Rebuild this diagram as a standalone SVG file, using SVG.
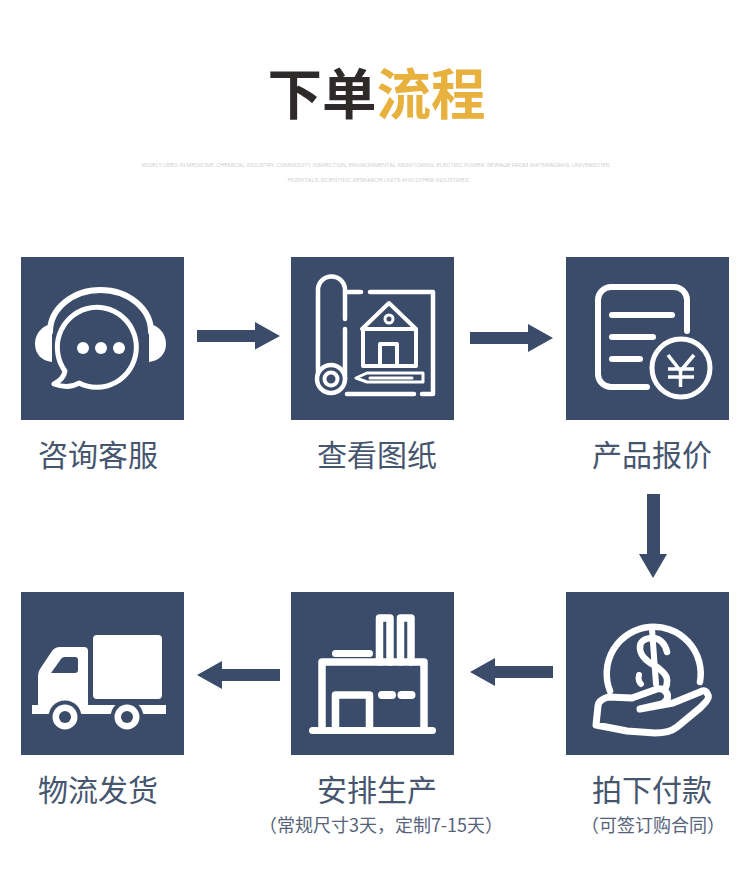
<svg xmlns="http://www.w3.org/2000/svg" width="750" height="878" viewBox="0 0 750 878">
<style>
.box{fill:#3b4c6a}
.s{fill:none;stroke:#fff;stroke-linecap:round;stroke-linejoin:round}
.w{fill:#fff}
.d{fill:#3b4c6a}
.lb{font-family:"Noto Sans CJK SC","Noto Sans",sans-serif;font-size:30px;fill:#46566f;text-anchor:middle;font-weight:400}
.sub{font-family:"Noto Sans CJK SC","Noto Sans",sans-serif;font-size:18px;fill:#56637a;text-anchor:middle;font-weight:400}
.en{font-family:"Roboto","Liberation Sans",sans-serif;font-size:6px;fill:#bcbcbc;text-anchor:middle;font-weight:300}
.tt{font-family:"Noto Sans CJK SC",sans-serif;font-size:54.500px;font-weight:700}
.ar{fill:#3b4c6a}
</style>
<rect width="750" height="878" fill="#fff"/>
<g id="title">
<text class="tt" x="267.500" y="114" fill="#2e2a2a">下单<tspan fill="#e8b13e">流程</tspan></text>
<text class="en" x="376" y="167" textLength="469" lengthAdjust="spacingAndGlyphs">WIDELY USED IN MEDICINE, CHEMICAL INDUSTRY, COMMODITY INSPECTION, ENVIRONMENTAL MONITORING, ELECTRIC POWER, SEWAGE FROM WATERWORKS, UNIVERSITIES,</text>
<text class="en" x="378" y="182" textLength="181" lengthAdjust="spacingAndGlyphs">HOSPITALS, SCIENTIFIC RESEARCH UNITS AND OTHER INDUSTRIES</text>
</g>
<g id="connectors">
<path class="ar" d="M197 330H255V322L280 336 255 349.500V342H197Z"/>
<path class="ar" d="M470 332H528V324L553 338 528 352V344H470Z"/>
<path class="ar" d="M647 494H660V554H667L653 578 639 554H647Z"/>
<path class="ar" d="M553 666H495V658L470 672 495 686V678H553Z"/>
<path class="ar" d="M280 669H222V661L197 675 222 689V681H280Z"/>
</g>
<g id="node-consult">
<rect class="box" x="21" y="257" width="163" height="163"/>
<path class="s" stroke-width="6" d="M50 332A50.500 42 0 0 1 151 332"/>
<path class="w" d="M52 324V362C42 361 35 354 35 344 35 334 42 325 52 324ZM149 324V362C159 361 166 354 166 344 166 334 159 325 149 324Z"/>
<path class="s" stroke-width="5" d="M65 371A39.500 40 0 1 1 79 383C71 388 62 387 54 384 60 381 64 377 65 371Z" style="fill:#3b4c6a"/>
<circle class="w" cx="83" cy="348" r="6"/><circle class="w" cx="101" cy="348" r="6"/><circle class="w" cx="119" cy="348" r="6"/>
<text class="lb" x="98" y="466">咨询客服</text>
</g>
<g id="node-drawing">
<rect class="box" x="291" y="257" width="163" height="163"/>
<g class="s" stroke-width="4.500">
<path d="M318 379V290A13.500 13.500 0 0 1 345 290V319M345 329V379"/>
<path d="M347 292H361M370 292H433V394H422M347 394H414"/>
<circle cx="331" cy="379" r="14" style="fill:#3b4c6a"/>
<circle cx="331" cy="379" r="6.500" stroke-width="4"/>
<path d="M362 329 389 303 416 329ZM363 329V366H416V329M380 366V344H397V366" stroke-width="4"/>
<circle cx="389" cy="319" r="4" stroke-width="3"/>
<path d="M356 378 367 373H423V382H367ZM370 378H412" stroke-width="3"/>
</g>
<text class="lb" x="377" y="466">查看图纸</text>
</g>
<g id="node-quote">
<rect class="box" x="566" y="257" width="163" height="163"/>
<g class="s" stroke-width="6">
<path d="M687 331V300A13 13 0 0 0 674 287H611A13 13 0 0 0 598 300V374A13 13 0 0 0 611 387H647"/>
<path d="M612 315H672M612 337H653M612 359H640"/>
<circle cx="681" cy="368" r="29" stroke-width="5"/>
<path d="M668 355 680.500 371 694 355M668 369H694M668 377H694M680.500 371V387" stroke-width="3.500" stroke-linecap="butt"/>
</g>
<text class="lb" x="652" y="466">产品报价</text>
</g>
<g id="node-pay">
<rect class="box" x="566" y="592" width="163" height="163"/>
<g class="s" stroke-width="7">
<path d="M610 691A47 47 0 1 1 700 682" stroke-width="6.500"/>
<path d="M667 652C665 643 659 638 653 638 644 638 639 642 640 649 641 658 650 663 657 667 663 672 668 676 667 682 667 686 666 688 664 690" stroke-width="6.500"/>
<path d="M639 675C638 679 639 682 641 684M652 629 656 684" stroke-width="6"/>
<path d="M640 709 662 704C668 701 670 695 664 690 661 688 659 689 657 689L632 698 608 697C602 699 598 702 598 706L596 725 627 731 655 733C664 733 672 731 677 727L700 708C704 704 710 698 708 695 706 690 703 690 700 692L673 703Z"/>
</g>
<text class="lb" x="652" y="801">拍下付款</text>
<text class="sub" x="653" y="832">（可签订购合同）</text>
</g>
<g id="node-produce">
<rect class="box" x="291" y="592" width="163" height="163"/>
<g class="s">
<path stroke-width="7" d="M312.500 730.500H432.500"/>
<path stroke-width="7.500" d="M322 730V662H424V730"/>
<path stroke-width="7.500" d="M335.500 730V695H369.500V730"/>
<path stroke-width="7" d="M335.500 653.500H369.500"/>
<path stroke-width="8" d="M382 695H392M401.500 695H411.500"/>
<path stroke-width="7.500" d="M379.500 662V618H390V662M400.500 662V618H411V662"/>
</g>
<text class="lb" x="377" y="801">安排生产</text>
<text class="sub" x="381" y="832">（常规尺寸3天，定制7-15天）</text>
</g>
<g id="node-ship">
<rect class="box" x="21" y="592" width="163" height="163"/>
<rect class="w" x="93" y="635" width="69" height="64" rx="4"/>
<path class="w" d="M38 714V676Q38 672 40 669L52 651Q55 647 60 647H84Q88 647 88 651V705H166V714Z"/>
<rect class="w" x="32" y="705" width="134" height="9"/>
<path class="d" d="M51 673 61 659Q62 657 65 657H75Q78 657 78 660V670Q78 673 75 673Z"/>
<circle class="d" cx="65" cy="717" r="16.500"/><circle class="d" cx="127" cy="717" r="16.500"/>
<rect class="w" x="32" y="705" width="12" height="9"/>
<circle class="w" cx="65" cy="717" r="12.500"/><circle class="w" cx="127" cy="717" r="12.500"/>
<circle class="d" cx="65" cy="717" r="6"/><circle class="d" cx="127" cy="717" r="6"/>
<text class="lb" x="98" y="801">物流发货</text>
</g>
</svg>
